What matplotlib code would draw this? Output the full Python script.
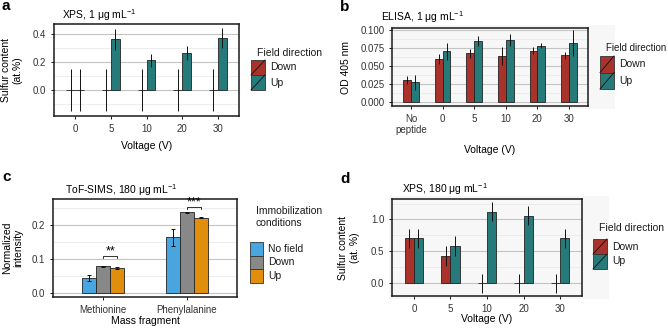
import matplotlib
matplotlib.use("Agg")
import matplotlib.pyplot as plt
import numpy as np
from matplotlib.patches import Rectangle
from matplotlib.lines import Line2D

plt.rcParams['font.family'] = ['Liberation Sans', 'DejaVu Sans']
plt.rcParams['mathtext.fontset'] = 'custom'
plt.rcParams['mathtext.rm'] = 'Liberation Sans'
plt.rcParams['mathtext.it'] = 'Liberation Sans:italic'

# ---- data ----
# a: XPS, 1 ug/mL
a_volt = ['0', '5', '10', '20', '30']
a_down = [0, 0, 0, 0, 0]
a_down_err = [0.15, 0.15, 0.15, 0.15, 0.15]
a_up = [0, 0.36, 0.21, 0.26, 0.37]
a_up_err = [0.15, 0.072, 0.043, 0.05, 0.074]

# b: ELISA, 1 ug/mL
b_volt = ['No\npeptide', '0', '5', '10', '20', '30']
b_down = [0.0307, 0.060, 0.068, 0.064, 0.0716, 0.065]
b_down_err = [0.005, 0.007, 0.006, 0.013, 0.005, 0.0044]
b_up = [0.0274, 0.0707, 0.085, 0.086, 0.0786, 0.0823]
b_up_err = [0.010, 0.012, 0.007, 0.0084, 0.003, 0.0186]

# c: ToF-SIMS, 180 ug/mL
c_frag = ['Methionine', 'Phenylalanine']
c_cond = ['No field', 'Down', 'Up']
c_vals = [[0.0434, 0.164], [0.079, 0.2386], [0.073, 0.2228]]
c_errs = [[0.008, 0.026], [0.0015, 0.002], [0.002, 0.002]]
c_sig = ['**', '***']
c_sig_y = [0.108, 0.254]

# d: XPS, 180 ug/mL
d_volt = ['0', '5', '10', '20', '30']
d_down = [0.703, 0.422, 0, 0, 0]
d_down_err = [0.155, 0.156, 0.15, 0.15, 0.15]
d_up = [0.703, 0.578, 1.12, 1.0625, 0.703]
d_up_err = [0.155, 0.156, 0.15, 0.155, 0.155]

RED = '#A9322B'
TEAL = '#277A7A'
BLUE = '#48A5E0'
GREY = '#888888'
ORANGE = '#E08E0B'
BG = '#F7F7F7'

W, H = 668, 334
fig = plt.figure(figsize=(W / 100, H / 100), dpi=100)


def fx(x):
    return x / W


def fy(y):
    return 1 - y / H


def make_ax(x0, y0, x1, y1):
    return fig.add_axes([fx(x0), fy(y1), fx(x1) - fx(x0), (y1 - y0) / H])


def style(ax, ylim, yticks, yminor, ytl, ncat):
    ax.set_xlim(-0.6, ncat - 0.4)
    ax.set_ylim(*ylim)
    ax.set_yticks(yticks)
    ax.set_yticklabels(ytl)
    for v in yticks:
        ax.axhline(v, color='#C4C4C4', lw=0.8, zorder=0)
    for v in yminor:
        ax.axhline(v, color='#E6E6E6', lw=0.5, zorder=0)
    for s in ax.spines.values():
        s.set_linewidth(1.1)
        s.set_color('#1a1a1a')
    ax.tick_params(length=2.5, width=0.7, pad=3, labelsize=7, colors='#1a1a1a')
    ax.tick_params(labelcolor='#333333')


def two_bars(ax, cats, down, down_err, up, up_err, bw=0.25):
    x = np.arange(len(cats))
    ax.bar(x - bw / 2, down, bw, color=RED, edgecolor='#222222', lw=0.6, zorder=2)
    ax.bar(x + bw / 2, up, bw, color=TEAL, edgecolor='#222222', lw=0.6, zorder=2)
    ax.errorbar(x - bw / 2, down, yerr=down_err, fmt='none', ecolor='#111111', elinewidth=0.7, capsize=0, zorder=3)
    ax.errorbar(x + bw / 2, up, yerr=up_err, fmt='none', ecolor='#111111', elinewidth=0.7, capsize=0, zorder=3)
    ax.set_xticks(x)
    ax.set_xticklabels(cats)


def legend(x, ytitle, title, labels, colors, kw, kh, ytop, diag=True, tsize=7.5):
    fig.text(fx(x), fy(ytitle), title, fontsize=tsize, va='center', ha='left', color='#1a1a1a')
    for i, (lab, col) in enumerate(zip(labels, colors)):
        y0 = ytop + i * kh
        fig.add_artist(Rectangle((fx(x - 6), fy(y0 + kh)), kw / W, kh / H,
                                 transform=fig.transFigure, facecolor=col,
                                 edgecolor='#333333', lw=0.6))
        if diag:
            fig.add_artist(Line2D([fx(x - 6), fx(x - 6 + kw)], [fy(y0 + kh), fy(y0)],
                                  transform=fig.transFigure, color='#111111', lw=0.6))
        fig.text(fx(x - 6 + kw + 5), fy(y0 + kh / 2), lab, fontsize=7.5, va='center',
                 ha='left', color='#1a1a1a')


# background boxes for b and d
fig.add_artist(Rectangle((fx(389), fy(109)), (615 - 389) / W, (109 - 25) / H,
                         transform=fig.transFigure, facecolor=BG, edgecolor='none', zorder=-5))
fig.add_artist(Rectangle((fx(389), fy(299)), (609 - 389) / W, (299 - 196) / H,
                         transform=fig.transFigure, facecolor=BG, edgecolor='none', zorder=-5))

# ---- panel a ----
ax = make_ax(54, 24, 239, 116)
two_bars(ax, a_volt, a_down, a_down_err, a_up, a_up_err)
style(ax, (-0.184, 0.469), [0.0, 0.2, 0.4], [-0.1, 0.1, 0.3], ['0.0', '0.2', '0.4'], 5)
ax.set_xlabel('Voltage (V)', fontsize=7.5)
ax.xaxis.set_label_coords(0.5, -0.27)
ax.set_ylabel('Sulfur content\n(at.%)', fontsize=7.5)
ax.yaxis.set_label_coords(-0.17, 0.5)
fig.text(fx(62), fy(15), r'XPS, 1 μg mL$^{-1}$', fontsize=7.5, va='center')
fig.text(fx(2), fy(6), 'a', fontsize=11, fontweight='bold', va='center')
legend(257, 53, 'Field direction', ['Down', 'Up'], [RED, TEAL], 14, 15, 60)

# ---- panel b ----
ax = make_ax(392, 28, 588, 106)
ax.set_facecolor(BG)
two_bars(ax, b_volt, b_down, b_down_err, b_up, b_up_err)
style(ax, (-0.0056, 0.1032), [0, 0.025, 0.05, 0.075, 0.1],
      [0.0125, 0.0375, 0.0625, 0.0875], ['0.000', '0.025', '0.050', '0.075', '0.100'], 6)
ax.set_xlabel('Voltage (V)', fontsize=7.5)
ax.xaxis.set_label_coords(0.5, -0.5)
ax.set_ylabel('OD 405 nm', fontsize=7.5)
ax.yaxis.set_label_coords(-0.21, 0.5)
fig.text(fx(381), fy(17), r'ELISA, 1 μg mL$^{-1}$', fontsize=7.5, va='center')
fig.text(fx(340), fy(7), 'b', fontsize=11, fontweight='bold', va='center')
legend(606, 48, 'Field direction', ['Down', 'Up'], [RED, TEAL], 14, 16.5, 56, tsize=7)

# ---- panel c ----
ax = make_ax(53, 199, 237, 297)
x = np.arange(len(c_frag))
bw = 0.5 / 3
cols = [BLUE, GREY, ORANGE]
for i in range(3):
    ax.bar(x + (i - 1) * bw, c_vals[i], bw, color=cols[i], edgecolor='#222222', lw=0.6, zorder=2)
    ax.errorbar(x + (i - 1) * bw, c_vals[i], yerr=c_errs[i], fmt='none', ecolor='#111111',
                elinewidth=0.7, capsize=1.2, capthick=0.7, zorder=3)
for j in range(2):
    x0, x1 = x[j], x[j] + bw
    yb = c_sig_y[j]
    ax.plot([x0, x0, x1, x1], [yb - 0.006, yb, yb, yb - 0.006], color='#111111', lw=0.6, zorder=3)
    ax.text((x0 + x1) / 2, yb + 0.013, c_sig[j], ha='center', va='center', fontsize=9)
ax.set_xticks(x)
ax.set_xticklabels(c_frag)
style(ax, (-0.0128, 0.278), [0, 0.1, 0.2], [0.05, 0.15, 0.25], ['0.0', '0.1', '0.2'], 2)
ax.set_xlabel('Mass fragment', fontsize=7.5)
ax.xaxis.set_label_coords(0.5, -0.19)
ax.set_ylabel('Normalized\nintensity', fontsize=7.5)
ax.yaxis.set_label_coords(-0.16, 0.5)
fig.text(fx(65), fy(190), r'ToF-SIMS, 180 μg mL$^{-1}$', fontsize=7.5, va='center')
fig.text(fx(2), fy(177), 'c', fontsize=11, fontweight='bold', va='center')
legend(256, 217, 'Immobilization\nconditions', c_cond, cols, 13, 13.5, 242, diag=False)

# ---- panel d ----
ax = make_ax(392, 199, 582, 296)
ax.set_facecolor(BG)
two_bars(ax, d_volt, d_down, d_down_err, d_up, d_up_err)
style(ax, (-0.203, 1.322), [0, 0.5, 1.0], [-0.25, 0.25, 0.75, 1.25], ['0.0', '0.5', '1.0'], 5)
ax.set_xlabel('Voltage (V)', fontsize=7.5)
ax.xaxis.set_label_coords(0.5, -0.19)
ax.set_ylabel('Sulfur content\n(at. %)', fontsize=7.5)
ax.yaxis.set_label_coords(-0.17, 0.5)
fig.text(fx(402), fy(189), r'XPS, 180 μg mL$^{-1}$', fontsize=7.5, va='center')
fig.text(fx(340), fy(179), 'd', fontsize=11, fontweight='bold', va='center')
legend(599, 228, 'Field direction', ['Down', 'Up'], [RED, TEAL], 14, 15, 239)

fig.savefig('out.png', dpi=100)
